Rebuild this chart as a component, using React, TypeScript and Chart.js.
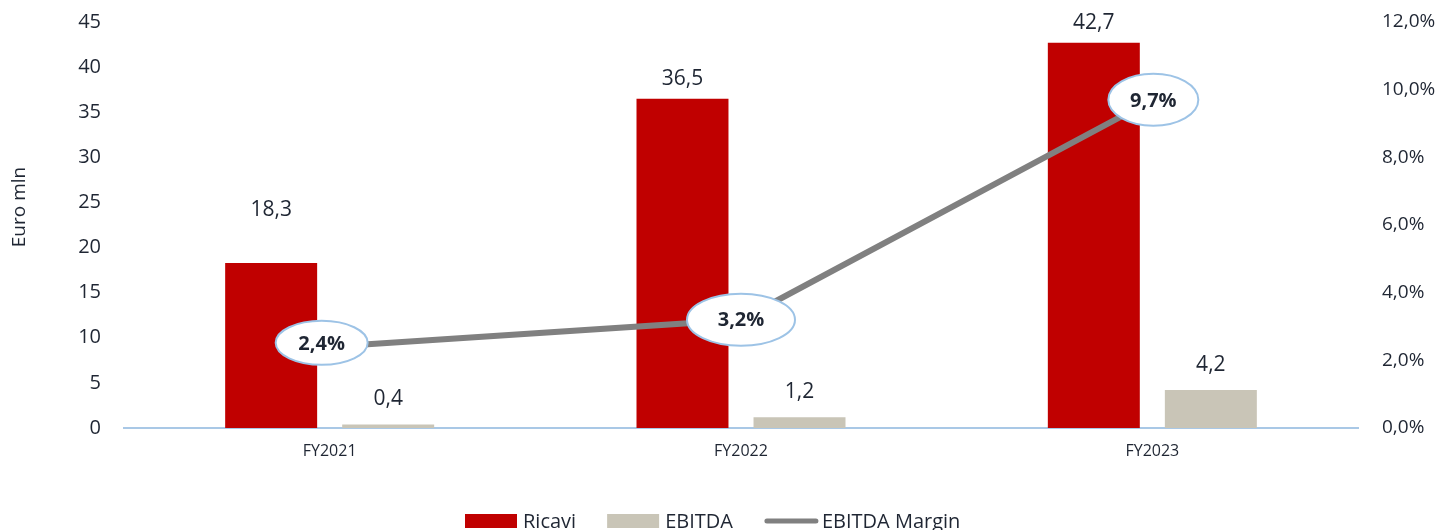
import React, { useEffect, useRef } from 'react';
import { Chart, registerables } from 'chart.js';

Chart.register(...registerables);

const categories = ['FY2021', 'FY2022', 'FY2023'];
const ricavi = [18.3, 36.5, 42.7];
const ebitda = [0.4, 1.2, 4.2];
const ebitdaMargin = [2.4, 3.2, 9.7];
const leftAxisMax = 45;
const leftAxisStep = 5;
const rightAxisMax = 12;
const rightAxisStep = 2;
const seriesNames = ['Ricavi', 'EBITDA', 'EBITDA Margin'];

const RED = '#C00000';
const BEIGE = '#C9C5B7';
const GREY_LINE = '#808080';
const TEXT = '#1F2633';
const AXIS_BLUE = '#A9C8E6';
const FONT = "'Open Sans', 'DejaVu Sans', sans-serif";

// label placement styles (pixels above bar top)
const ricaviLabelOffset = [53, 20, 20];
const ebitdaLabelOffset = [25, 25, 25];
// ellipse styles
const ellipseW = [92, 108, 90];
const ellipseH = [44, 52, 52];
const ellipseDx = [-8, 0, 1];
const ellipseDy = [-4, 0, 0];

const fmt1 = (v: number) => v.toFixed(1).replace('.', ',');

const labelPlugin = {
  id: 'customLabels',
  afterDatasetsDraw(chart: any) {
    const ctx = chart.ctx;
    ctx.save();
    ctx.fillStyle = TEXT;
    ctx.font = `21px ${FONT}`;
    ctx.textAlign = 'center';
    ctx.textBaseline = 'middle';
    const m0 = chart.getDatasetMeta(0);
    m0.data.forEach((el: any, i: number) => {
      ctx.fillText(fmt1(ricavi[i]), el.x, el.y - ricaviLabelOffset[i]);
    });
    const m1 = chart.getDatasetMeta(1);
    m1.data.forEach((el: any, i: number) => {
      ctx.fillText(fmt1(ebitda[i]), el.x, el.y - ebitdaLabelOffset[i]);
    });
    const m2 = chart.getDatasetMeta(2);
    m2.data.forEach((el: any, i: number) => {
      const cx = el.x + ellipseDx[i];
      const cy = el.y + ellipseDy[i];
      ctx.beginPath();
      ctx.ellipse(cx, cy, ellipseW[i] / 2, ellipseH[i] / 2, 0, 0, Math.PI * 2);
      ctx.fillStyle = '#FFFFFF';
      ctx.fill();
      ctx.lineWidth = 2;
      ctx.strokeStyle = '#9DC3E6';
      ctx.stroke();
      ctx.fillStyle = TEXT;
      ctx.font = `bold 20px ${FONT}`;
      ctx.fillText(fmt1(ebitdaMargin[i]) + '%', cx, cy + 1);
    });
    ctx.restore();
  },
  afterDraw(chart: any) {
    const ctx = chart.ctx;
    ctx.save();
    // axis title
    ctx.translate(20, 207);
    ctx.rotate(-Math.PI / 2);
    ctx.fillStyle = TEXT;
    ctx.font = `19px ${FONT}`;
    ctx.textAlign = 'center';
    ctx.textBaseline = 'middle';
    ctx.fillText('Euro mln', 0, 0);
    ctx.restore();

    // legend
    ctx.save();
    ctx.font = `20px ${FONT}`;
    ctx.textBaseline = 'alphabetic';
    ctx.textAlign = 'left';
    let x = chart.width / 2 - 257;
    const baseY = 528;
    const colors = [RED, BEIGE, GREY_LINE];
    seriesNames.forEach((name, i) => {
      if (i < 2) {
        ctx.fillStyle = colors[i];
        ctx.fillRect(x, 514, 52, 14);
        x += 58;
      } else {
        ctx.strokeStyle = colors[i];
        ctx.lineWidth = 5;
        ctx.lineCap = 'round';
        ctx.beginPath();
        ctx.moveTo(x + 3, 521);
        ctx.lineTo(x + 52, 521);
        ctx.stroke();
        x += 58;
      }
      ctx.fillStyle = TEXT;
      ctx.fillText(name, x, baseY);
      x += ctx.measureText(name).width + 31;
    });
    ctx.restore();
  },
};

export default function App() {
  const ref = useRef<HTMLCanvasElement | null>(null);
  useEffect(() => {
    if (!ref.current) return;
    const chart = new Chart(ref.current, {
      type: 'bar',
      data: {
        labels: categories,
        datasets: [
          {
            type: 'bar',
            label: seriesNames[0],
            data: ricavi,
            backgroundColor: RED,
            yAxisID: 'y',
            order: 2,
            categoryPercentage: 0.569,
            barPercentage: 0.786,
          },
          {
            type: 'bar',
            label: seriesNames[1],
            data: ebitda,
            backgroundColor: BEIGE,
            yAxisID: 'y',
            order: 3,
            categoryPercentage: 0.569,
            barPercentage: 0.786,
          },
          {
            type: 'line',
            label: seriesNames[2],
            data: ebitdaMargin,
            borderColor: GREY_LINE,
            borderWidth: 6,
            pointRadius: 0,
            yAxisID: 'y1',
            order: 1,
            tension: 0,
          } as any,
        ],
      },
      options: {
        animation: false,
        responsive: true,
        maintainAspectRatio: false,
        layout: { padding: { top: 22, bottom: 62, left: 0, right: 0 } },
        plugins: {
          legend: { display: false },
          tooltip: { enabled: false },
        },
        scales: {
          x: {
            grid: { display: false, drawTicks: false },
            border: { display: true, color: AXIS_BLUE, width: 2 },
            ticks: { color: TEXT, font: { family: FONT, size: 16 }, padding: 14 },
            afterFit: (s: any) => { s.height = 40; s.paddingLeft = 0; s.paddingRight = 0; },
          },
          y: {
            position: 'left',
            min: 0,
            max: leftAxisMax,
            grid: { display: false, drawTicks: false, tickLength: 0 },
            border: { display: false },
            ticks: { stepSize: leftAxisStep, color: TEXT, font: { family: FONT, size: 20 }, padding: 23 },
            afterFit: (s: any) => { s.width = 124; s.paddingTop = 0; s.paddingBottom = 0; },
          },
          y1: {
            position: 'right',
            min: 0,
            max: rightAxisMax,
            grid: { display: false, drawTicks: false, tickLength: 0 },
            border: { display: false },
            ticks: {
              stepSize: rightAxisStep,
              color: TEXT,
              font: { family: FONT, size: 19 },
              padding: 24,
              callback: (v: any) => fmt1(Number(v)) + '%',
            },
            afterFit: (s: any) => { s.width = 86; s.paddingTop = 0; s.paddingBottom = 0; },
          },
        },
      },
      plugins: [labelPlugin],
    } as any);
    return () => chart.destroy();
  }, []);
  return (
    <div style={{ position: 'fixed', left: 0, top: 0, width: 1444, height: 530, background: '#fff' }}>
      <canvas ref={ref} />
    </div>
  );
}
